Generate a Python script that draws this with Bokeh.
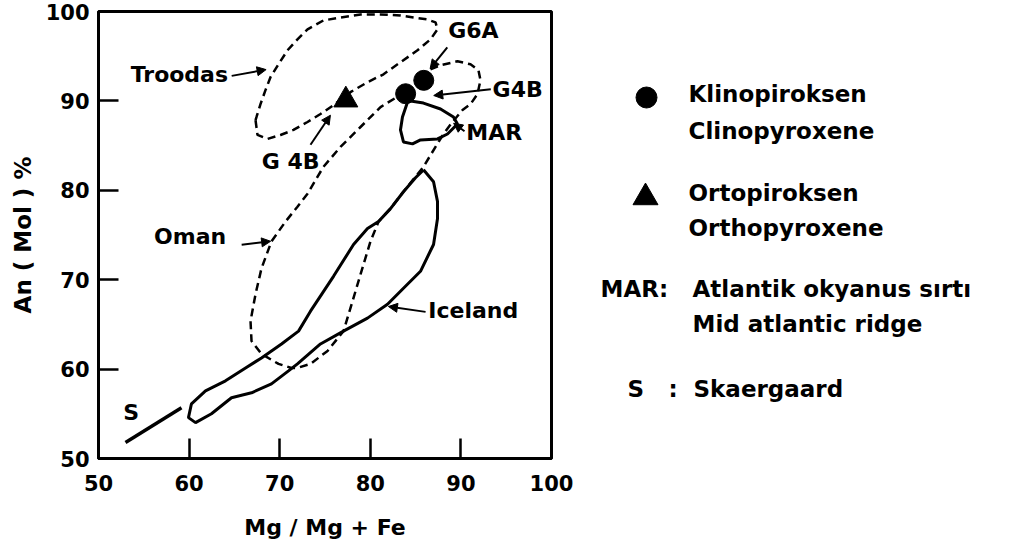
from bokeh.plotting import figure
from bokeh.models import Range1d, FixedTicker, Label, Arrow, NormalHead
from bokeh.layouts import row
from bokeh.embed import file_html
from bokeh.resources import INLINE
from bokeh.core.properties import value

FONT = "DejaVu Sans"

# ---------------- data ----------------
x_ticks = [50, 60, 70, 80, 90, 100]
y_ticks = [50, 60, 70, 80, 90, 100]

troodas_x = [67.33, 67.55, 68.65, 70.09, 71.52, 73.07, 74.50, 75.94, 77.81, 79.69, 81.46, 83.33,
             85.21, 86.64, 87.42, 87.20, 86.31, 84.77, 83.33, 81.13, 78.92, 76.71, 74.83, 73.07,
             71.96, 70.86, 69.87, 68.98, 68.43, 67.88, 67.44, 67.33]
troodas_y = [87.86, 86.19, 85.75, 86.19, 86.75, 87.64, 88.53, 89.53, 90.98, 92.09, 92.98, 94.32,
             95.66, 96.88, 98.00, 98.78, 99.11, 99.33, 99.55, 99.67, 99.67, 99.33, 99.00, 98.00,
             96.88, 95.66, 94.10, 92.65, 91.20, 89.64, 88.20, 87.86]

oman_x = [86.64, 87.75, 89.62, 91.06, 91.94, 92.16, 91.83, 91.06, 90.18, 89.07, 88.08, 87.20,
          85.87, 83.66, 82.23, 80.91, 80.02, 78.92, 78.04, 77.04, 75.28, 73.40, 71.96, 71.30,
          69.87, 67.99, 66.89, 66.78, 67.33, 67.99, 69.09, 70.64, 71.96, 73.07, 74.83, 76.71,
          78.92, 81.13, 83.11]
oman_y = [93.54, 93.99, 94.43, 94.10, 93.43, 92.32, 90.76, 89.64, 88.98, 87.64, 86.30, 84.86,
          82.63, 79.84, 77.95, 76.50, 74.28, 70.60, 67.59, 64.25, 62.03, 60.58, 60.13, 60.13,
          60.58, 61.69, 63.14, 65.37, 68.37, 71.27, 74.28, 76.50, 78.17, 79.62, 82.63, 84.86,
          87.08, 89.31, 90.53]

iceland_x = [85.87, 86.98, 87.42, 87.42, 86.98, 85.54, 83.33, 81.90, 79.69, 77.04, 74.50, 71.96,
             70.97, 69.09, 66.89, 64.68, 62.47, 60.71, 59.93, 60.26, 61.81, 64.02, 66.23, 67.99,
             70.20, 72.08, 73.40, 75.94, 78.15, 79.69, 80.91, 82.23, 83.66, 84.99, 85.87]
iceland_y = [82.29, 80.96, 78.73, 76.84, 73.94, 70.94, 68.71, 67.26, 65.70, 64.25, 62.81, 60.58,
             59.80, 58.35, 57.35, 56.79, 55.01, 54.01, 54.57, 56.12, 57.57, 58.69, 60.13, 61.25,
             62.81, 64.25, 66.48, 70.38, 73.94, 75.72, 76.50, 77.95, 79.84, 81.40, 82.29]

mar_x = [84.11, 83.55, 83.33, 83.66, 84.66, 85.54, 87.42, 88.52, 89.62, 89.18, 87.75, 85.87, 84.44, 84.11]
mar_y = [89.87, 88.20, 86.75, 85.41, 85.19, 85.63, 85.75, 86.30, 87.42, 88.20, 89.09, 89.76, 89.98, 89.87]

skaer_x = [52.98, 59.16]
skaer_y = [51.78, 55.68]

clino_x = [83.9, 85.9]
clino_y = [90.8, 92.3]
ortho_x = [77.3]
ortho_y = [90.1]

ann_text = ["Troodas", "Oman", "G 4B", "G6A", "G4B", "MAR", "Iceland", "S"]
ann_x = [64.3, 64.1, 71.2, 88.6, 93.5, 90.6, 86.4, 53.6]
ann_y = [93.0, 74.8, 83.2, 97.9, 91.3, 86.5, 66.5, 55.2]
ann_align = ["right", "right", "center", "left", "left", "left", "left", "center"]

arr_x0 = [64.7, 65.8, 73.4, 88.5, 93.3, 90.4, 86.1]
arr_y0 = [92.8, 73.9, 85.1, 96.0, 91.3, 86.6, 66.4]
arr_x1 = [68.5, 69.0, 75.6, 86.6, 87.0, 89.2, 82.0]
arr_y1 = [93.5, 74.3, 88.4, 93.6, 90.6, 87.5, 67.0]

legend_rows = ["Klinopiroksen", "Clinopyroxene", "Ortopiroksen", "Orthopyroxene",
               "MAR:", "Atlantik okyanus sırtı", "Mid atlantic ridge", "S", ":", "Skaergaard"]
legend_tx = [112, 112, 112, 112, 24, 116, 116, 51, 92, 117]
legend_ty = [93, 130, 192, 227, 288, 288, 323, 388, 388, 388]

# ---------------- main plot ----------------
p = figure(width=576, height=544, x_range=Range1d(50, 100), y_range=Range1d(50, 100),
           output_backend="svg", toolbar_location=None,
           min_border_left=98, min_border_right=25, min_border_top=11, min_border_bottom=86)
p.grid.visible = False
p.outline_line_color = "black"
p.outline_line_width = 3
p.background_fill_color = "white"
p.border_fill_color = "white"

for ax, ticks in ((p.xaxis[0], x_ticks), (p.yaxis[0], y_ticks)):
    ax.ticker = FixedTicker(ticks=ticks)
    ax.major_tick_in = 20
    ax.major_tick_out = 0
    ax.minor_tick_line_color = None
    ax.major_tick_line_width = 2.5
    ax.axis_line_width = 3
    ax.major_label_text_font = FONT
    ax.major_label_text_font_style = "bold"
    ax.major_label_text_font_size = "21px"
    ax.major_label_text_color = "black"
    ax.axis_label_text_font = FONT
    ax.axis_label_text_font_style = "bold"
    ax.axis_label_text_color = "black"

p.xaxis.axis_label = "Mg / Mg + Fe"
p.xaxis.axis_label_text_font_size = "22px"
p.xaxis.major_label_standoff = 16
p.xaxis.axis_label_standoff = 21
p.yaxis.axis_label = "An ( Mol ) %"
p.yaxis.axis_label_text_font_size = "23px"
p.yaxis.major_label_standoff = 9
p.yaxis.axis_label_standoff = 7

p.line(troodas_x, troodas_y, line_color="black", line_width=2.5, line_dash="8 5")
p.line(oman_x, oman_y, line_color="black", line_width=2.5, line_dash="8 5")
p.line(iceland_x, iceland_y, line_color="black", line_width=3)
p.line(mar_x, mar_y, line_color="black", line_width=3)
p.line(skaer_x, skaer_y, line_color="black", line_width=3.5)

p.scatter(clino_x, clino_y, marker="circle", size=20, fill_color="black", line_color="black")
p.scatter(ortho_x, ortho_y, marker="triangle", size=24, fill_color="black", line_color="black")

for x0, y0, x1, y1 in zip(arr_x0, arr_y0, arr_x1, arr_y1):
    p.add_layout(Arrow(x_start=x0, y_start=y0, x_end=x1, y_end=y1, line_width=2,
                       line_color="black",
                       end=NormalHead(size=9, fill_color="black", line_color="black")))

for t, x, y, a in zip(ann_text, ann_x, ann_y, ann_align):
    p.add_layout(Label(x=x, y=y, text=t, text_align=a, text_baseline="middle",
                       text_font=FONT, text_font_style="bold", text_font_size="22px",
                       text_color="black"))

# ---------------- legend panel ----------------
# the row layout aligns this panel's frame with the main frame (page y 11..458)
q = figure(width=434, height=544, x_range=Range1d(0, 434), y_range=Range1d(458, 11),
           output_backend="svg", toolbar_location=None,
           x_axis_location=None, y_axis_location=None,
           min_border_left=0, min_border_right=0, min_border_top=11, min_border_bottom=86)
q.grid.visible = False
q.outline_line_color = None
q.background_fill_color = "white"
q.border_fill_color = "white"

q.scatter([70], [97], marker="circle", size=21, fill_color="black", line_color="black")
q.scatter([69], [197], marker="triangle", size=25, fill_color="black", line_color="black")
q.text(legend_tx, legend_ty, text=legend_rows, text_align="left", text_baseline="middle",
       text_font=value(FONT), text_font_style="bold", text_font_size="23px", text_color="black")

out = row(p, q)
open("out.html", "w").write(file_html(out, INLINE))
